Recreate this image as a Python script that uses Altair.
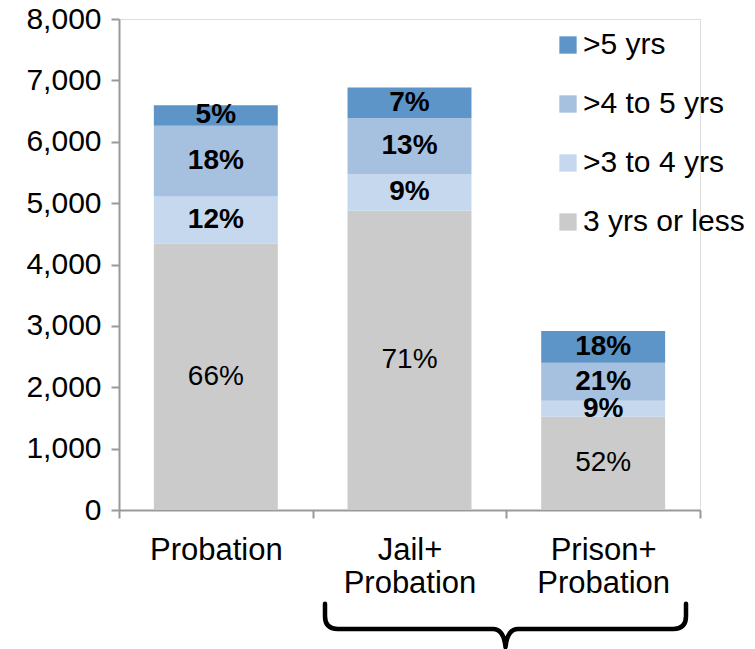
import altair as alt
import pandas as pd

categories = ["Probation", "Jail+ Probation", "Prison+ Probation"]
groups = ["3 yrs or less", ">3 to 4 yrs", ">4 to 5 yrs", ">5 yrs"]
legend_order = [">5 yrs", ">4 to 5 yrs", ">3 to 4 yrs", "3 yrs or less"]
legend_colors = ["#5E95C8", "#A6C0E0", "#C5D8ED", "#CBCBCB"]

le3 = [4337, 4875, 1520]
g3to4 = [772, 597, 260]
g4to5 = [1153, 912, 619]
g5 = [334, 500, 516]

pct_le3 = ["66%", "71%", "52%"]
pct_3to4 = ["12%", "9%", "9%"]
pct_4to5 = ["18%", "13%", "21%"]
pct_5 = ["5%", "7%", "18%"]

y_ticks = [0, 1000, 2000, 3000, 4000, 5000, 6000, 7000, 8000]

series = [le3, g3to4, g4to5, g5]
pcts = [pct_le3, pct_3to4, pct_4to5, pct_5]

rows = []
for gi, (g, vals, labs) in enumerate(zip(groups, series, pcts)):
    for c, v, l in zip(categories, vals, labs):
        rows.append({"category": c, "group": g, "rank": gi, "count": v, "pct": l})
df = pd.DataFrame(rows)

FONT = "Liberation Sans"

base = alt.Chart(df).transform_stack(
    stack="count",
    groupby=["category"],
    as_=["y0", "y1"],
    sort=[alt.SortField("rank", order="ascending")],
).transform_calculate(mid="(datum.y0 + datum.y1) / 2")

xenc = alt.X(
    "category:N",
    sort=categories,
    scale=alt.Scale(paddingInner=0, paddingOuter=0),
    axis=alt.Axis(
        title=None,
        labelExpr="datum.value ? split(datum.value, ' ') : ''",
        labelAngle=0,
        labelFont=FONT,
        labelFontSize=31,
        labelLineHeight=33,
        labelColor="black",
        labelPadding=17,
        tickBand="extent",
        tickSize=8,
        tickColor="#999999",
        domainColor="#999999",
        domainWidth=2,
        tickWidth=2,
        grid=False,
    ),
)

bars = base.mark_bar(width=alt.RelativeBandSize(0.64)).encode(
    x=xenc,
    y=alt.Y(
        "y0:Q",
        scale=alt.Scale(domain=[0, 8000]),
        axis=alt.Axis(
            title=None,
            values=y_ticks,
            format=",.0f",
            labelFont=FONT,
            labelFontSize=30,
            labelColor="black",
            labelPadding=10,
            tickSize=8,
            tickColor="#999999",
            domainColor="#999999",
            domainWidth=2,
            tickWidth=2,
            grid=False,
        ),
    ),
    y2="y1:Q",
    color=alt.Color(
        "group:N",
        scale=alt.Scale(domain=legend_order, range=legend_colors),
        legend=alt.Legend(
            title=None,
            orient="none",
            legendX=434,
            legendY=11,
            symbolType="square",
            symbolSize=300,
            symbolStrokeWidth=0,
            symbolOpacity=1,
            labelFont=FONT,
            labelFontSize=30,
            labelColor="black",
            labelOffset=0,
            labelLimit=300,
            rowPadding=29,
            padding=0,
        ),
    ),
)

bold_txt = base.transform_filter("datum.rank > 0").mark_text(
    font=FONT, fontSize=28, fontWeight="bold", color="black", baseline="middle"
).encode(x=alt.X("category:N", sort=categories), y="mid:Q", text="pct:N")

norm_txt = base.transform_filter("datum.rank == 0").mark_text(
    font=FONT, fontSize=28, color="black", baseline="middle"
).encode(x=alt.X("category:N", sort=categories), y="mid:Q", text="pct:N")

brace_path = (
    "M -1 -0.14 L -1 -0.07 Q -1 0 -0.93 0 L -0.07 0 Q -0.01 0 0 0.1 "
    "Q 0.01 0 0.07 0 L 0.93 0 Q 1 0 1 -0.07 L 1 -0.14"
)
brace = alt.Chart(pd.DataFrame({"k": [0]})).mark_point(
    shape=brace_path, filled=False, size=130321, strokeWidth=4.5,
    color="black", opacity=1, strokeCap="round", strokeJoin="round"
).encode(x=alt.value(386.5), y=alt.value(610))

chart = alt.layer(bars, bold_txt, norm_txt, brace).properties(
    width=581,
    height=491,
    autosize=alt.AutoSizeParams(type="none"),
    padding={"left": 111, "top": 11, "right": 47, "bottom": 139},
).configure_view(stroke=None).configure(font=FONT)

chart.save("out.html", embed_options={"renderer": "svg", "actions": False})
